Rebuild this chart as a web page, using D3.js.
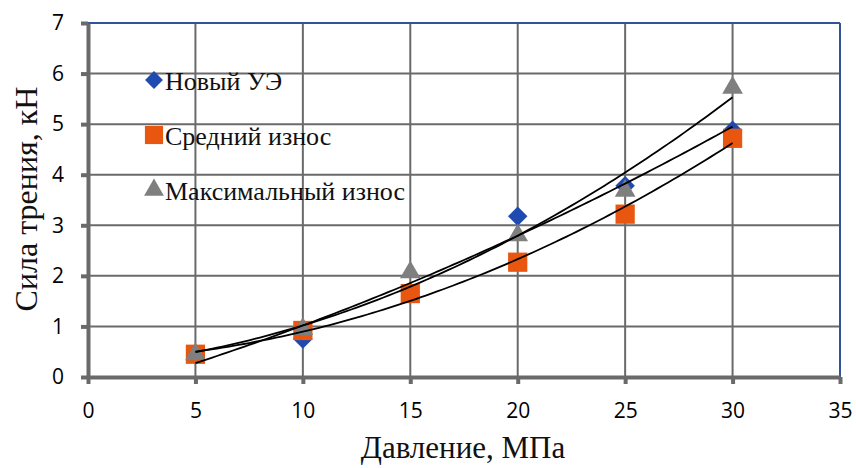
<!DOCTYPE html>
<html><head><meta charset="utf-8">
<script src="https://cdn.jsdelivr.net/npm/d3@7"></script>
<style>body{margin:0;background:#fff}</style>
</head><body>
<svg id="c" width="856" height="468"></svg>
<script>
const pressure = [5, 10, 15, 20, 25, 30];
const newUE = [0.45, 0.75, 1.68, 3.18, 3.78, 4.88];
const midWear = [0.45, 0.92, 1.65, 2.27, 3.22, 4.72];
const maxWear = [0.45, 0.95, 2.07, 2.8, 3.68, 5.72];
const seriesNames = ["Новый УЭ", "Средний износ", "Максимальный износ"];
const xTicks = [0, 5, 10, 15, 20, 25, 30, 35];
const yTicks = [0, 1, 2, 3, 4, 5, 6, 7];

const svg = d3.select("#c");
const L = 88, R = 840, T = 23, B = 377;
const x = d3.scaleLinear().domain([0, 35]).range([L, R]);
const y = d3.scaleLinear().domain([0, 7]).range([B, T]);

// grid
svg.append("g").selectAll("line").data(xTicks.slice(1, -1)).join("line")
  .attr("x1", d => x(d)).attr("x2", d => x(d)).attr("y1", T).attr("y2", B)
  .attr("stroke", "#6a6a6a").attr("stroke-width", 2);
svg.append("g").selectAll("line").data(yTicks.slice(1, -1)).join("line")
  .attr("x1", L).attr("x2", R).attr("y1", d => y(d)).attr("y2", d => y(d))
  .attr("stroke", "#6a6a6a").attr("stroke-width", 2);
// top/right border
svg.append("line").attr("x1", L).attr("x2", R).attr("y1", T).attr("y2", T).attr("stroke", "#2f5597").attr("stroke-width", 2);
svg.append("line").attr("x1", R).attr("x2", R).attr("y1", T).attr("y2", B).attr("stroke", "#2f5597").attr("stroke-width", 2);

// axes
const fmt = d3.format("d");
const xAxis = d3.axisBottom(x).tickValues(xTicks).tickFormat(fmt).tickSizeInner(7).tickSizeOuter(0).tickPadding(19);
const yAxis = d3.axisLeft(y).tickValues(yTicks).tickFormat(fmt).tickSizeInner(7).tickSizeOuter(0).tickPadding(17);
const gx = svg.append("g").attr("transform", `translate(0,${B})`).call(xAxis);
const gy = svg.append("g").attr("transform", `translate(${L},0)`).call(yAxis);
[gx, gy].forEach(g => {
  g.select(".domain").attr("stroke", "#6a6a6a").attr("stroke-width", 4);
  g.selectAll(".tick line").attr("stroke", "#6a6a6a").attr("stroke-width", 4);
  g.selectAll(".tick text").attr("font-family", "'Open Sans', sans-serif").attr("font-size", 21).attr("fill", "#000");
});

// markers
const colors = ["#1f4bb0", "#e8560f", "#7f7f7f"];
const data = [newUE, midWear, maxWear];
const kinds = ["diamond", "square", "triangle"];
const sizes = [190, 370, 185];
function drawSym(g, kind, size, color, cx, cy) {
  if (kind === "diamond") {
    g.append("path").attr("d", d3.symbol(d3.symbolSquare, size)()).attr("transform", `translate(${cx},${cy}) rotate(45)`).attr("fill", color);
  } else if (kind === "square") {
    g.append("path").attr("d", d3.symbol(d3.symbolSquare, size)()).attr("transform", `translate(${cx},${cy})`).attr("fill", color);
  } else {
    g.append("path").attr("d", d3.symbol(d3.symbolTriangle, size)()).attr("transform", `translate(${cx},${cy})`).attr("fill", color);
  }
}
const mg = svg.append("g");
data.forEach((s, i) => {
  s.forEach((v, j) => drawSym(mg, kinds[i], sizes[i], colors[i], x(pressure[j]), y(v)));
});

// quadratic least squares trendlines
function quadFit(xs, ys) {
  const n = xs.length;
  let s = [0, 0, 0, 0, 0], t = [0, 0, 0];
  for (let i = 0; i < n; i++) {
    for (let k = 0; k < 5; k++) s[k] += Math.pow(xs[i], k);
    for (let k = 0; k < 3; k++) t[k] += ys[i] * Math.pow(xs[i], k);
  }
  const A = [[s[0], s[1], s[2], t[0]], [s[1], s[2], s[3], t[1]], [s[2], s[3], s[4], t[2]]];
  for (let c = 0; c < 3; c++) {
    for (let r = c + 1; r < 3; r++) {
      const f = A[r][c] / A[c][c];
      for (let k = c; k < 4; k++) A[r][k] -= f * A[c][k];
    }
  }
  const co = [0, 0, 0];
  for (let r = 2; r >= 0; r--) {
    let v = A[r][3];
    for (let k = r + 1; k < 3; k++) v -= A[r][k] * co[k];
    co[r] = v / A[r][r];
  }
  return xv => co[0] + co[1] * xv + co[2] * xv * xv;
}
const line = d3.line().x(d => x(d[0])).y(d => y(d[1]));
data.forEach(s => {
  const f = quadFit(pressure, s);
  const pts = d3.range(5, 30.01, 0.25).map(xv => [xv, f(xv)]);
  svg.append("path").attr("d", line(pts)).attr("fill", "none").attr("stroke", "#000").attr("stroke-width", 1.8);
});

// legend
const legY = [80, 135, 190];
const legSizes = [160, 330, 170];
seriesNames.forEach((nm, i) => {
  const lg = svg.append("g");
  drawSym(lg, kinds[i], legSizes[i], colors[i], 154, legY[i]);
  lg.append("text").attr("x", 165).attr("y", legY[i] + 10).text(nm)
    .attr("font-family", "'Liberation Serif', 'Times New Roman', serif").attr("font-size", 26).attr("fill", "#111");
});

// titles
svg.append("text").attr("x", 463).attr("y", 458).attr("text-anchor", "middle").text("Давление, МПа")
  .attr("font-family", "'Liberation Serif', 'Times New Roman', serif").attr("font-size", 31).attr("fill", "#111");
svg.append("text").attr("transform", "translate(37,199) rotate(-90)").attr("text-anchor", "middle").text("Сила трения, кН")
  .attr("font-family", "'Liberation Serif', 'Times New Roman', serif").attr("font-size", 32).attr("fill", "#111");
</script>
</body></html>
